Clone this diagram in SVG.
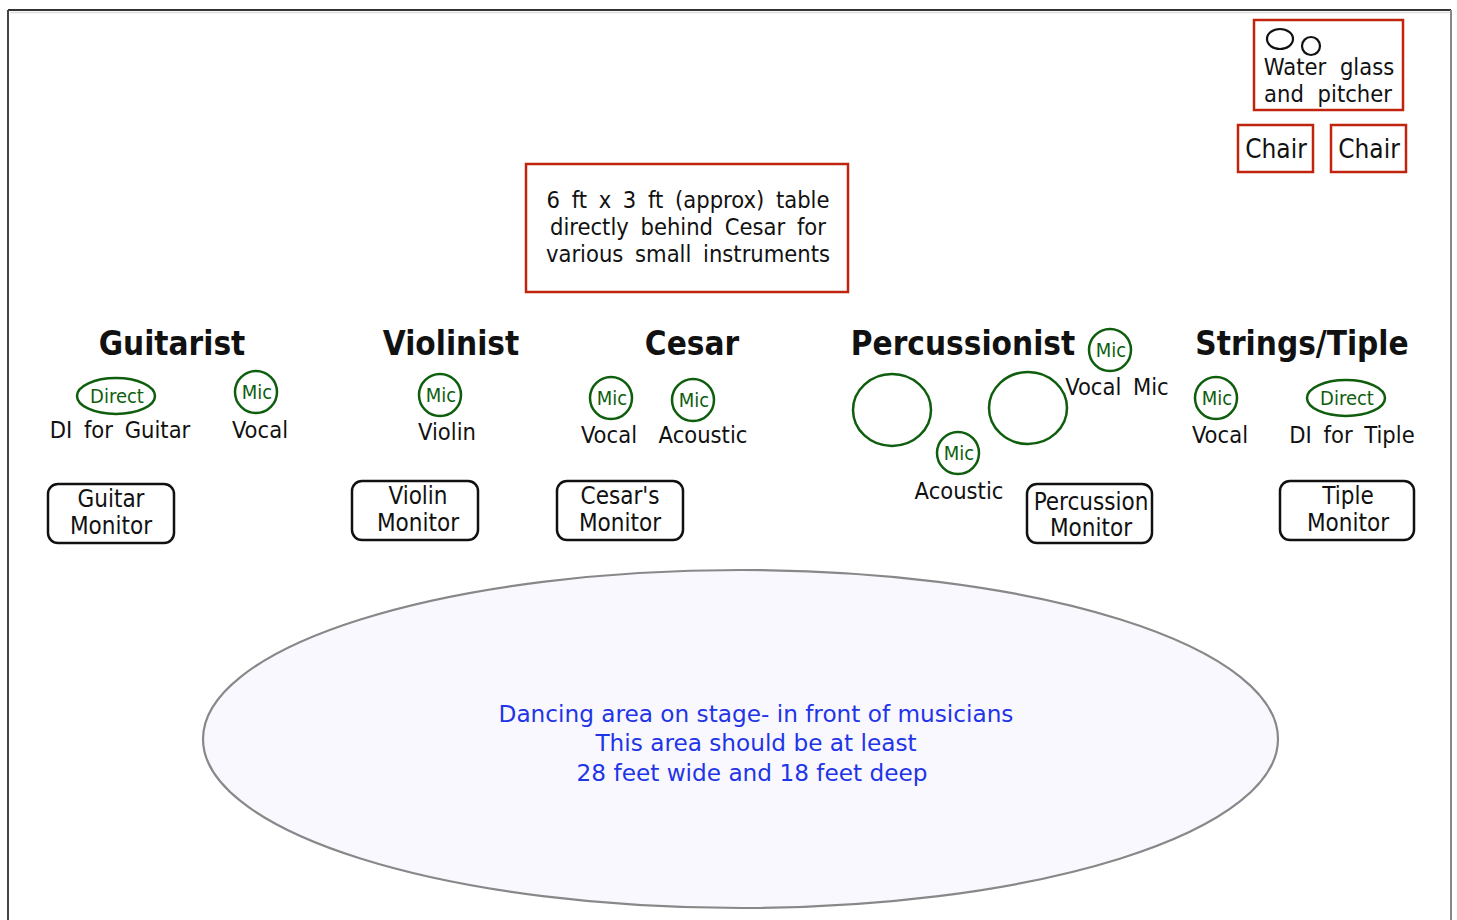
<svg xmlns="http://www.w3.org/2000/svg" width="1457" height="920" viewBox="0 0 1457 920">
<style>
.lbl{font-family:"DejaVu Sans Condensed","DejaVu Sans",sans-serif;font-stretch:condensed;fill:#111;text-anchor:middle}
.t{font-size:23.5px;word-spacing:5px}
.h{font-size:33px;font-weight:bold}
.mon{font-size:24px}
.g{font-size:20px;fill:#0e5e0e}
.red{fill:#fff;stroke:#c0240f;stroke-width:2.5}
.grn{fill:none;stroke:#0e5e0e;stroke-width:2.5}
.monbox{fill:#fff;stroke:#111;stroke-width:2.5}
.blue{font-family:"DejaVu Sans",sans-serif;font-size:23.2px;fill:#1f35e6;text-anchor:middle}
</style>
<rect width="1457" height="920" fill="#fff"/>
<g id="frame">
<line x1="8" y1="10" x2="1451" y2="10" stroke="#333" stroke-width="2"/>
<line x1="10" y1="12.5" x2="1450" y2="12.5" stroke="#ddd" stroke-width="1.5"/>
<line x1="8" y1="10" x2="8" y2="920" stroke="#444" stroke-width="2"/>
<line x1="1451" y1="10" x2="1451" y2="920" stroke="#888" stroke-width="2"/>
</g>
<g id="water">
<rect class="red" x="1254" y="20" width="149" height="90"/>
<ellipse cx="1280" cy="39" rx="13" ry="10" fill="none" stroke="#111" stroke-width="2.2"/>
<circle cx="1311" cy="46" r="9" fill="none" stroke="#111" stroke-width="2.2"/>
<text class="lbl t" x="1329" y="75" style="word-spacing:7px">Water glass</text>
<text class="lbl t" x="1328" y="102" style="word-spacing:7px">and pitcher</text>
</g>
<g id="chair1"><rect class="red" x="1238" y="125" width="75" height="47"/><text class="lbl" x="1276" y="158" font-size="26">Chair</text></g>
<g id="chair2"><rect class="red" x="1331" y="125" width="75" height="47"/><text class="lbl" x="1369" y="158" font-size="26">Chair</text></g>
<g id="table">
<rect class="red" x="526" y="164" width="322" height="128"/>
<text class="lbl t" x="688" y="208" style="word-spacing:5px">6 ft x  3 ft (approx) table</text>
<text class="lbl t" x="688" y="235" style="word-spacing:5px">directly behind Cesar for</text>
<text class="lbl t" x="688" y="262" style="word-spacing:5px">various small instruments</text>
</g>
<g id="guitarist">
<text class="lbl h" x="172" y="355">Guitarist</text>
<ellipse class="grn" cx="116" cy="396" rx="39" ry="18"/><text class="lbl g" x="117" y="403">Direct</text>
<text class="lbl t" x="120" y="438">DI for Guitar</text>
<circle class="grn" cx="256" cy="392" r="21"/><text class="lbl g" x="257" y="399">Mic</text>
<text class="lbl t" x="260" y="438">Vocal</text>
<rect class="monbox" x="48" y="484" width="126" height="59" rx="10"/>
<text class="lbl mon" x="111" y="507">Guitar</text><text class="lbl mon" x="111" y="534">Monitor</text>
</g>
<g id="violinist">
<text class="lbl h" x="451" y="355">Violinist</text>
<circle class="grn" cx="440" cy="395" r="21"/><text class="lbl g" x="441" y="402">Mic</text>
<text class="lbl t" x="447" y="440">Violin</text>
<rect class="monbox" x="352" y="481" width="126" height="59" rx="10"/>
<text class="lbl mon" x="418" y="504">Violin</text><text class="lbl mon" x="418" y="531">Monitor</text>
</g>
<g id="cesar">
<text class="lbl h" x="692" y="355">Cesar</text>
<circle class="grn" cx="611" cy="398" r="21"/><text class="lbl g" x="612" y="405">Mic</text>
<text class="lbl t" x="609" y="443">Vocal</text>
<circle class="grn" cx="693" cy="400" r="21"/><text class="lbl g" x="694" y="407">Mic</text>
<text class="lbl t" x="703" y="443">Acoustic</text>
<rect class="monbox" x="557" y="481" width="126" height="59" rx="10"/>
<text class="lbl mon" x="620" y="504">Cesar's</text><text class="lbl mon" x="620" y="531">Monitor</text>
</g>
<g id="percussionist">
<text class="lbl h" x="963" y="355">Percussionist</text>
<circle class="grn" cx="1110" cy="350" r="21"/><text class="lbl g" x="1111" y="357">Mic</text>
<text class="lbl t" x="1117" y="395">Vocal Mic</text>
<ellipse class="grn" cx="892" cy="410" rx="39" ry="36"/>
<ellipse class="grn" cx="1028" cy="408" rx="39" ry="36"/>
<circle class="grn" cx="958" cy="453" r="21"/><text class="lbl g" x="959" y="460">Mic</text>
<text class="lbl t" x="959" y="499">Acoustic</text>
<rect class="monbox" x="1027" y="484" width="125" height="59" rx="10"/>
<text class="lbl mon" x="1091" y="510">Percussion</text><text class="lbl mon" x="1091" y="536">Monitor</text>
</g>
<g id="strings">
<text class="lbl h" x="1302" y="355">Strings/Tiple</text>
<circle class="grn" cx="1216" cy="398" r="21"/><text class="lbl g" x="1217" y="405">Mic</text>
<text class="lbl t" x="1220" y="443">Vocal</text>
<ellipse class="grn" cx="1346" cy="398" rx="39" ry="18"/><text class="lbl g" x="1347" y="405">Direct</text>
<text class="lbl t" x="1352" y="443">DI for Tiple</text>
<rect class="monbox" x="1280" y="481" width="134" height="59" rx="10"/>
<text class="lbl mon" x="1348" y="504">Tiple</text><text class="lbl mon" x="1348" y="531">Monitor</text>
</g>
<g id="dance">
<ellipse cx="740.5" cy="739" rx="537.5" ry="169" fill="#faf8ff" stroke="#888" stroke-width="2.2"/>
<text class="blue" x="756" y="722">Dancing area on stage- in front of musicians</text>
<text class="blue" x="756" y="751">This area should be at least</text>
<text class="blue" x="752" y="781">28 feet wide and 18 feet deep</text>
</g>
<g id="connectors"></g>
</svg>
